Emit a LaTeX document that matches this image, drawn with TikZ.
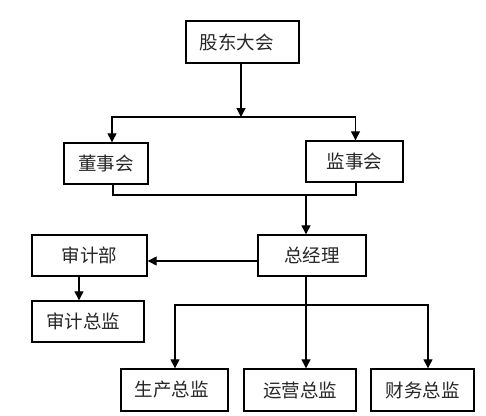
\documentclass[tikz,border=0pt]{standalone}
\usepackage{fontspec}
\setmainfont{Noto Sans CJK SC}
\usetikzlibrary{arrows.meta,calc}
\tikzset{
  box/.style={draw=black, line width=1.4pt, inner sep=0pt, font=\fontsize{18.5}{18.5}\selectfont, text=black!85},
  conn/.style={draw=black, line width=1.3pt},
  arr/.style={conn, -{Triangle[length=9pt,width=9pt]}}
}
\begin{document}
\begin{tikzpicture}[x=1pt,y=-1pt]
\useasboundingbox (0,0) rectangle (486,415);
\node[box, minimum width=113pt, minimum height=42pt] (gd) at (242.5,42) {股东大会\hspace*{12pt}};
\node[box, minimum width=84pt, minimum height=41pt] (ds) at (106,163.5) {董事会};
\node[box, minimum width=97pt, minimum height=41pt] (js) at (354.5,161.5) {监事会};
\node[box, minimum width=108pt, minimum height=41pt] (zj) at (312,255.5) {总经理};
\node[box, minimum width=115pt, minimum height=41pt] (sj) at (89.5,255.5) {审计部};
\node[box, minimum width=112pt, minimum height=41pt] (sjz) at (88,321.5) {审计总监\hspace*{10pt}};
\node[box, minimum width=107pt, minimum height=42pt] (sc) at (174.5,390) {生产总监\hspace*{6pt}};
\node[box, minimum width=112pt, minimum height=42pt] (yy) at (300,390) {运营总监};
\node[box, minimum width=103pt, minimum height=42pt] (cw) at (422.5,390) {财务总监};
\coordinate (j1) at (241,117);
\coordinate (j2) at (306,195);
\coordinate (j3) at (306,305);
\draw[arr] (j1 |- gd.south) -- (j1);
\draw[arr] (j1) -| ([xshift=6pt]ds.north);
\draw[arr] (j1) -| ([xshift=1pt]js.north);
\draw[conn] ([xshift=7pt]ds.south) |- (j2) -| ([xshift=1.5pt]js.south);
\draw[arr] (j2) -- (j2 |- zj.north);
\draw[arr] ([yshift=-5.5pt]zj.west) -- ([yshift=-5.5pt]sj.east);
\draw[arr] ([xshift=-10.5pt]sj.south) -- ([xshift=-10.5pt]sj.south |- sjz.north);
\draw[conn] (j3 |- zj.south) -- (j3);
\draw[arr] (j3) -| ([xshift=0.5pt]sc.north);
\draw[arr] (j3) -- (j3 |- yy.north);
\draw[arr] (j3) -| ([xshift=5.5pt]cw.north);
\end{tikzpicture}
\end{document}
